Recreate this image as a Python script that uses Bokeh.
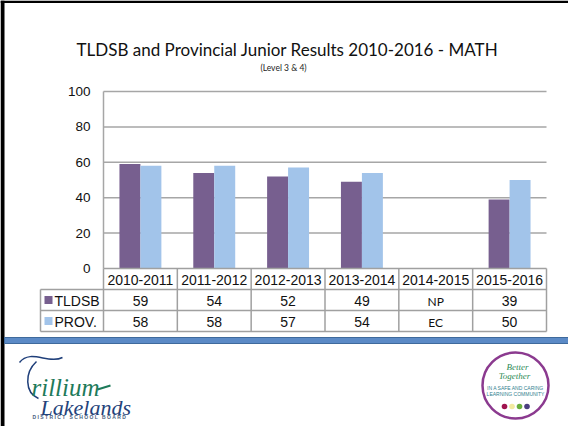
from bokeh.plotting import figure
from bokeh.models import Range1d
from bokeh.core.properties import value
from bokeh.embed import file_html
from bokeh.resources import INLINE

# ---------------- data ----------------
categories = ["2010-2011", "2011-2012", "2012-2013", "2013-2014", "2014-2015", "2015-2016"]
tldsb = [59, 54, 52, 49, None, 39]
prov = [58, 58, 57, 54, None, 50]
tldsb_missing_note = "NP"
prov_missing_note = "EC"
series_names = ["TLDSB", "PROV."]
y_ticks = [0, 20, 40, 60, 80, 100]
title_text = "TLDSB and Provincial Junior Results 2010-2016 - MATH"
subtitle_text = "(Level 3 & 4)"

# ---------------- styling / layout ----------------
C_TL = "#775F8F"
C_PR = "#A2C4EA"
GRID = "#A6A6A6"
FONT = "Liberation Sans"
W, H = 568, 426
OFF = 0                      # page offset of the figure
X0, X1 = 103, 546            # plot area on page (x)
Y0, Y100 = 268, 91           # y of value 0 and value 100 on page
n = len(categories)
ux = (X1 - X0) / n
uy = (Y0 - Y100) / 100.0

p = figure(width=W, height=H, output_backend="svg", toolbar_location=None,
           x_range=Range1d((OFF - X0) / ux, (OFF + W - X0) / ux),
           y_range=Range1d((Y0 - (OFF + H)) / uy, (Y0 - OFF) / uy),
           min_border=0, outline_line_color=None)
p.axis.visible = False
p.grid.visible = False
p.background_fill_color = "white"
p.border_fill_color = "white"
p.extra_x_ranges = {"px": Range1d(OFF, OFF + W)}
p.extra_y_ranges = {"px": Range1d(OFF + H, OFF)}

# slide frame (left and top black edges)
p.quad(left=[0, 0], right=[4, W], top=[0, 0], bottom=[H, 2.5], x_range_name="px", y_range_name="px",
       fill_color="black", line_color=None)

# gridlines (data units)
for t in y_ticks[1:]:
    p.segment(x0=[0], x1=[n], y0=[t], y1=[t], line_color=GRID, line_width=1.5)
# y axis line
p.segment(x0=[0], x1=[0], y0=[0], y1=[y_ticks[-1]], line_color=GRID, line_width=1.5)

# bars
bw = 0.284
nan = float("nan")
tl_vals = [nan if v is None else v for v in tldsb]
pr_vals = [nan if v is None else v for v in prov]
p.vbar(x=[i + 0.5 - bw / 2 for i in range(n)], top=tl_vals, bottom=0, width=bw,
       fill_color=C_TL, line_color=None)
p.vbar(x=[i + 0.5 + bw / 2 for i in range(n)], top=pr_vals, bottom=0, width=bw,
       fill_color=C_PR, line_color=None)

# tick labels
p.text(x=[-13 / ux] * len(y_ticks), y=y_ticks, text=[str(t) for t in y_ticks],
       text_align="right", text_baseline="middle", text_font=value(FONT),
       text_font_size="13.5px", text_color="#111111")

# title
p.text(x=[287], y=[49], text=[title_text], x_range_name="px", y_range_name="px",
       text_align="center", text_baseline="middle", text_font=value("Lato"),
       text_font_size="17px", text_color="#111111")
p.text(x=[283], y=[67], text=[subtitle_text], x_range_name="px", y_range_name="px",
       text_align="center", text_baseline="middle", text_font=value("Lato"),
       text_font_size="8.5px", text_color="#222222")

# ---------------- data table ----------------
R_H, R_1, R_2, R_3 = 268, 289, 310, 331
LX = 40
TB = "#A0A0A0"
p.segment(x0=[X0, LX, LX, LX], x1=[X1] * 4, y0=[R_H, R_1, R_2, R_3], y1=[R_H, R_1, R_2, R_3],
          x_range_name="px", y_range_name="px", line_color=TB, line_width=1.5)
vx = [X0 + k * ux for k in range(n + 1)]
p.segment(x0=vx, x1=vx, y0=[R_H] * len(vx), y1=[R_3] * len(vx),
          x_range_name="px", y_range_name="px", line_color=TB, line_width=1.5)
p.segment(x0=[LX], x1=[LX], y0=[R_1], y1=[R_3],
          x_range_name="px", y_range_name="px", line_color=TB, line_width=1.5)

cx = [i + 0.5 for i in range(n)]
p.text(x=cx, y=[(R_H + R_1) / 2 + 1] * n, text=categories, y_range_name="px",
       text_align="center", text_baseline="middle", text_font=value(FONT),
       text_font_size="14px", text_color="#111111")
for vals, note, yy in ((tldsb, tldsb_missing_note, (R_1 + R_2) / 2 + 1),
                       (prov, prov_missing_note, (R_2 + R_3) / 2 + 1)):
    xs_num = [cx[i] for i, v in enumerate(vals) if v is not None]
    tx_num = [str(v) for v in vals if v is not None]
    xs_note = [cx[i] for i, v in enumerate(vals) if v is None]
    p.text(x=xs_num, y=[yy] * len(xs_num), text=tx_num, y_range_name="px",
           text_align="center", text_baseline="middle", text_font=value(FONT),
           text_font_size="14px", text_color="#111111")
    p.text(x=xs_note, y=[yy] * len(xs_note), text=[note] * len(xs_note), y_range_name="px",
           text_align="center", text_baseline="middle", text_font=value("Lato"),
           text_font_size="12px", text_color="#111111")

# legend keys
for col, name, yy in ((C_TL, series_names[0], (R_1 + R_2) / 2), (C_PR, series_names[1], (R_2 + R_3) / 2)):
    p.rect(x=[48], y=[yy], width=8, height=8, x_range_name="px", y_range_name="px",
           fill_color=col, line_color=None)
    p.text(x=[54], y=[yy + 1], text=[name], x_range_name="px", y_range_name="px",
           text_align="left", text_baseline="middle", text_font=value(FONT),
           text_font_size="14px", text_color="#111111")

# ---------------- slide decoration ----------------
p.quad(left=[4], right=[W], top=[337], bottom=[343], x_range_name="px", y_range_name="px",
       fill_color="#5B8AC6", line_color="#3F6A9C", line_width=1)

# Trillium Lakelands logo
p.bezier(x0=[19], y0=[362], x1=[62], y1=[357], cx0=[30], cy0=[348], cx1=[48], cy1=[364],
         x_range_name="px", y_range_name="px", line_color="#1F3F7A", line_width=1.5)
p.bezier(x0=[36], y0=[361], x1=[38], y1=[398], cx0=[24], cy0=[372], cx1=[24], cy1=[392],
         x_range_name="px", y_range_name="px", line_color="#1F3F7A", line_width=1.5)
p.text(x=[31], y=[387], text=["rillium"], x_range_name="px", y_range_name="px",
       text_align="left", text_baseline="alphabetic", text_font=value("Liberation Serif"),
       text_font_style="italic", text_font_size="25px", text_color="#1E7A5A")
p.segment(x0=[97], x1=[110], y0=[389], y1=[385], x_range_name="px", y_range_name="px",
          line_color="#1E7A5A", line_width=2)
p.text(x=[40], y=[407], text=["Lakelands"], x_range_name="px", y_range_name="px",
       text_align="left", text_baseline="alphabetic", text_font=value("Liberation Serif"),
       text_font_style="italic", text_font_size="22px", text_color="#24427A")
NB = "\u00a0"
board = (NB * 3).join(NB.join(w) for w in "DISTRICT SCHOOL BOARD".split())
p.text(x=[32], y=[416], text=[board], x_range_name="px",
       y_range_name="px", text_align="left", text_baseline="middle", text_font=value(FONT),
       text_font_size="5px", text_font_style="bold", text_color="#4A6080")

# Better Together logo
p.circle(x=[515], y=[385], radius=33, x_range_name="px", y_range_name="px",
         fill_color="white", line_color="#8B3A8F", line_width=2.5)
p.text(x=[517, 514], y=[366, 375], text=["Better", "Together"], x_range_name="px", y_range_name="px",
       text_align="center", text_baseline="middle", text_font=value("Liberation Serif"),
       text_font_style="italic", text_font_size="9px", text_color="#2E8B57")
p.text(x=[515, 515], y=[387, 393], text=["IN A SAFE AND CARING", "LEARNING COMMUNITY"],
       x_range_name="px", y_range_name="px", text_align="center", text_baseline="middle",
       text_font=value(FONT), text_font_size="5px", text_color="#2F7F8F")
p.circle(x=[504, 511.5, 519, 526.5], y=[406] * 4, radius=2.8, x_range_name="px", y_range_name="px",
         fill_color=["#A0144F", "#F2EAA0", "#6AAF3D", "#4B3F7F"], line_color=None)

open("out.html", "w").write(file_html(p, INLINE))
